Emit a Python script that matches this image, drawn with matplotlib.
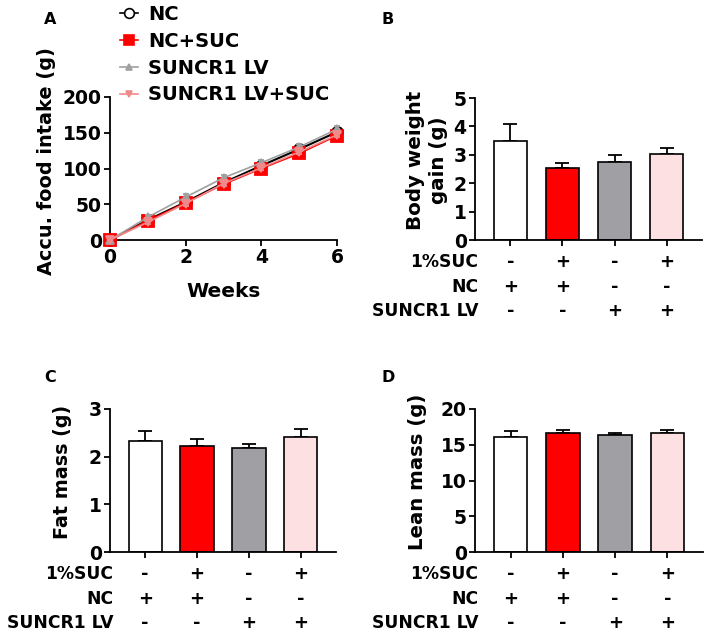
import numpy as np
import matplotlib
matplotlib.use("Agg")
import matplotlib.pyplot as plt
from matplotlib.lines import Line2D

plt.rcParams['font.family'] = ['DejaVu Sans']
plt.rcParams['font.weight'] = 'bold'

# --- data ---
weeks = [0, 1, 2, 3, 4, 5, 6]
series_names = ["NC", "NC+SUC", "SUNCR1 LV", "SUNCR1 LV+SUC"]
food_nc = [0, 28, 53, 80, 104, 127, 151]
food_nc_suc = [0, 27, 52, 78, 100, 121, 146]
food_lv = [0, 32, 60, 87, 108, 130, 155]
food_lv_suc = [0, 25, 51, 79, 101, 123, 147]
food_err_nc = [0, 3, 3, 3, 3, 3, 3]
food_err_nc_suc = [0, 3, 3, 3, 3, 3, 3]
food_err_lv = [0, 3, 4, 4, 4, 4, 5]
food_err_lv_suc = [0, 3, 3, 3, 3, 3, 3]

bw_gain = [3.49, 2.54, 2.75, 3.04]
bw_gain_err = [0.58, 0.18, 0.24, 0.19]
fat_mass = [2.33, 2.23, 2.18, 2.41]
fat_mass_err = [0.21, 0.14, 0.09, 0.17]
lean_mass = [16.14, 16.70, 16.33, 16.65]
lean_mass_err = [0.79, 0.32, 0.37, 0.37]

row_labels = ["1%SUC", "NC", "SUNCR1 LV"]
row_suc = ["-", "+", "-", "+"]
row_nc = ["+", "+", "-", "-"]
row_lv = ["-", "-", "+", "+"]

bar_colors = ["#ffffff", "#ff0000", "#a0a0a4", "#fde0e2"]
line_colors = ["#000000", "#ff0000", "#a0a0a0", "#f08a8a"]
markers = ["o", "s", "^", "v"]

W, H = 709, 640
fig = plt.figure(figsize=(W / 100, H / 100), dpi=100)


def px_axes(left, right, top, bottom):
    return fig.add_axes([left / W, (H - bottom) / H, (right - left) / W, (bottom - top) / H])


def style(ax):
    ax.spines['top'].set_visible(False)
    ax.spines['right'].set_visible(False)
    for s in ['left', 'bottom']:
        ax.spines[s].set_linewidth(1.3)
    ax.tick_params(width=1.3, length=4, labelsize=13.5, pad=2)
    for lab in ax.get_xticklabels() + ax.get_yticklabels():
        lab.set_fontweight('bold')


# --- panel A ---
axA = px_axes(110, 337, 97, 240)
food = [food_nc, food_nc_suc, food_lv, food_lv_suc]
errs = [food_err_nc, food_err_nc_suc, food_err_lv, food_err_lv_suc]
order = [2, 3, 1, 0]
handles = [None] * 4
for i in order:
    c = line_colors[i]
    mfc = "white" if i == 0 else c
    mec = "black" if i == 0 else c
    ms = 8 if i < 2 else 6
    axA.errorbar(weeks, food[i], yerr=errs[i], color=c, lw=1.5 if i == 0 else 1.2,
                 marker=markers[i], ms=ms, mfc=mfc, mec=mec, mew=1.3,
                 capsize=2, elinewidth=1, clip_on=False, zorder=3 + i)
    handles[i] = Line2D([0], [0], color=c, lw=1.2, marker=markers[i], ms=ms - 1,
                        mfc=mfc, mec=mec, mew=1.2)
axA.set_xlim(0, 6)
axA.set_ylim(0, 200)
axA.set_xticks([0, 2, 4, 6])
axA.set_yticks([0, 50, 100, 150, 200])
style(axA)
axA.text(-0.278, 0.55, "Accu. food intake (g)", transform=axA.transAxes, rotation=90,
         ha='center', va='center', fontsize=13.9, fontweight='bold')
axA.text(0.5, -0.36, "Weeks", transform=axA.transAxes, ha='center', va='center',
         fontsize=14.5, fontweight='bold')
fig.legend(handles, series_names, loc='upper left', bbox_to_anchor=(120 / W, 1 - 5 / H),
           frameon=False, borderpad=0, borderaxespad=0, handlelength=0.95,
           handletextpad=0.5, labelspacing=0.4, prop={'size': 14, 'weight': 'bold'})
fig.text(50 / W, 1 - 20 / H, "A", ha='center', va='center', fontsize=11.5, fontweight='bold')


# --- bar panels ---
def bar_panel(ax, vals, err, ymax, yticks, ylabel, lx, ly, lsize):
    x = np.arange(len(vals))
    ax.bar(x, vals, width=0.64, color=bar_colors, edgecolor='black', linewidth=1.2, zorder=2)
    ax.errorbar(x, vals, yerr=[np.zeros(len(vals)), err], fmt='none', ecolor='black',
                elinewidth=1.3, capsize=5, capthick=1.3, zorder=1)
    ax.set_xlim(-0.68, 3.68)
    ax.set_ylim(0, ymax)
    ax.set_yticks(yticks)
    ax.set_xticks(x)
    ax.set_xticklabels([])
    style(ax)
    ax.text(lx, ly, ylabel, transform=ax.transAxes, rotation=90, ha='center',
            va='center', fontsize=lsize, fontweight='bold', linespacing=1.25)
    tr = ax.get_xaxis_transform()
    h = ax.get_position().height * H
    for r, (lab, syms) in enumerate(zip(row_labels, [row_suc, row_nc, row_lv])):
        yy = -(22 + 24.5 * r) / h
        ax.text(0.015, yy, lab, transform=ax.transAxes, ha='right', va='center',
                fontsize=12.3, fontweight='bold')
        for xi, s in zip(x, syms):
            ax.text(xi, yy, s, transform=tr, ha='center', va='center',
                    fontsize=13, fontweight='bold')


axB = px_axes(475, 702, 98, 240)
bar_panel(axB, bw_gain, bw_gain_err, 5, [0, 1, 2, 3, 4, 5], "Body weight\ngain (g)",
          -0.21, 0.56, 14.3)
fig.text(388 / W, 1 - 20 / H, "B", ha='center', va='center', fontsize=11.5, fontweight='bold')

axC = px_axes(110, 336, 409, 552)
bar_panel(axC, fat_mass, fat_mass_err, 3, [0, 1, 2, 3], "Fat mass (g)", -0.208, 0.56, 13.8)
fig.text(50 / W, 1 - 378 / H, "C", ha='center', va='center', fontsize=11.5, fontweight='bold')

axD = px_axes(475, 703, 409, 552)
bar_panel(axD, lean_mass, lean_mass_err, 20, [0, 5, 10, 15, 20], "Lean mass (g)",
          -0.25, 0.56, 14.2)
fig.text(388 / W, 1 - 378 / H, "D", ha='center', va='center', fontsize=11.5, fontweight='bold')

fig.savefig("out.png", dpi=100)
